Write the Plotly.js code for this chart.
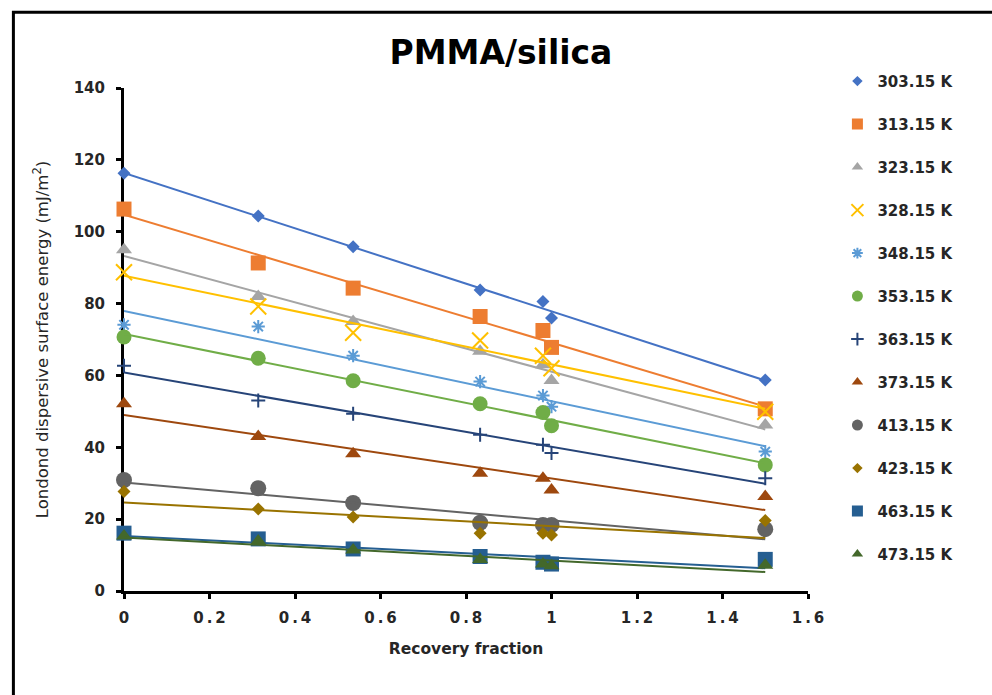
<!DOCTYPE html>
<html>
<head>
<meta charset="utf-8">
<script src="https://cdn.plot.ly/plotly-3.0.1.min.js"></script>
<style>
  html, body { margin: 0; padding: 0; background: #ffffff; overflow: hidden; }
  #chart { width: 992px; height: 695px; }
</style>
</head>
<body>
<div id="chart"></div>
<script>
// Recovery fraction (x values shared by all series)
const recoveryFraction = [0, 0.314, 0.536, 0.833, 0.98, 1.0, 1.5];

// Series labels
const seriesNames = ["303.15 K", "313.15 K", "323.15 K", "328.15 K", "348.15 K", "353.15 K",
                     "363.15 K", "373.15 K", "413.15 K", "423.15 K", "463.15 K", "473.15 K"];

// London dispersive surface energy (mJ/m²) per temperature
const energy303 = [116.3, 104.4, 95.8, 83.8, 80.6, 76.0, 58.7];
const energy313 = [106.3, 91.3, 84.3, 76.4, 72.5, 67.8, 50.7];
const energy323 = [95.0, 82.0, 75.0, 66.7, 63.0, 58.6, 46.2];
const energy328 = [88.7, 79.2, 71.9, 69.7, 65.5, 62.0, 49.9];
const energy348 = [74.1, 73.6, 65.5, 58.3, 54.4, 51.3, 38.8];
const energy353 = [70.7, 64.8, 58.5, 52.1, 49.7, 46.0, 35.1];
const energy363 = [62.7, 53.0, 49.3, 43.5, 40.7, 38.4, 31.4];
const energy373 = [52.1, 43.0, 38.2, 32.8, 31.4, 28.1, 26.3];
const energy413 = [30.9, 28.6, 24.5, 19.0, 18.4, 18.4, 17.2];
const energy423 = [27.7, 22.8, 20.6, 16.1, 16.1, 15.6, 19.6];
const energy463 = [16.1, 14.5, 11.7, 9.6, 8.0, 7.5, 8.8];
const energy473 = [15.3, 13.9, 11.4, 8.8, 7.5, 7.0, 7.2];

// Axis ticks
const xTickVals = [0, 0.2, 0.4, 0.6, 0.8, 1, 1.2, 1.4, 1.6];
const xTickText = ["0", "0\u2009.\u20092", "0\u2009.\u20094", "0\u2009.\u20096", "0\u2009.\u20098",
                   "1", "1\u2009.\u20092", "1\u2009.\u20094", "1\u2009.\u20096"];
const yTickVals = [0, 20, 40, 60, 80, 100, 120, 140];

const seriesValues = [energy303, energy313, energy323, energy328, energy348, energy353,
                      energy363, energy373, energy413, energy423, energy463, energy473];

// Styles
const colors = ["#4472C4", "#ED7D31", "#A5A5A5", "#FFC000", "#5B9BD5", "#70AD47",
                "#264478", "#9E480E", "#636363", "#997300", "#255E91", "#43682B"];
const symbols = ["diamond", "square", "triangle-up", "x-thin-open", "asterisk-open", "circle",
                 "cross-thin-open", "triangle-up", "circle", "diamond", "square", "triangle-up"];
const sizes = [10, 15, 14, 16, 11, 15, 10, 14, 16, 10, 15, 14];
const legendSizes = [8, 11, 10, 12, 9, 11, 9, 10, 11, 8, 11, 10];

function linearFit(xs, ys) {
  const n = xs.length;
  const mx = xs.reduce((a, b) => a + b, 0) / n;
  const my = ys.reduce((a, b) => a + b, 0) / n;
  let sxy = 0, sxx = 0;
  for (let i = 0; i < n; i++) {
    sxy += (xs[i] - mx) * (ys[i] - my);
    sxx += (xs[i] - mx) * (xs[i] - mx);
  }
  const slope = sxy / sxx;
  return { slope: slope, intercept: my - slope * mx };
}

const traces = [];
seriesNames.forEach((name, i) => {
  const ys = seriesValues[i];
  const open = symbols[i].indexOf("open") >= 0;
  const lineStyle = open ? { color: colors[i], width: 2 } : { width: 0 };
  // markers
  traces.push({
    type: "scatter", mode: "markers", name: name,
    x: recoveryFraction, y: ys,
    legendgroup: name, showlegend: false,
    cliponaxis: false,
    marker: { symbol: symbols[i], size: sizes[i], color: colors[i], line: lineStyle }
  });
  // linear trendline
  const fit = linearFit(recoveryFraction, ys);
  const xMin = Math.min.apply(null, recoveryFraction);
  const xMax = Math.max.apply(null, recoveryFraction);
  traces.push({
    type: "scatter", mode: "lines", name: name + " trend",
    x: [xMin, xMax],
    y: [fit.intercept + fit.slope * xMin, fit.intercept + fit.slope * xMax],
    legendgroup: name, showlegend: false, hoverinfo: "skip",
    line: { color: colors[i], width: 2 }
  });
  // legend entry (smaller symbol, like the reference legend)
  traces.push({
    type: "scatter", mode: "markers", name: name,
    x: [null], y: [null],
    legendgroup: name, showlegend: true,
    marker: { symbol: symbols[i], size: legendSizes[i], color: colors[i], line: lineStyle }
  });
});

const textColor = "#262626";
const layout = {
  width: 992, height: 695,
  paper_bgcolor: "#ffffff", plot_bgcolor: "#ffffff",
  margin: { l: 124, r: 184, t: 88, b: 104 },
  font: { family: "DejaVu Sans", color: textColor },
  showlegend: true,
  title: {
    text: "<b>PMMA/silica</b>",
    font: { family: "DejaVu Sans", size: 33, color: "#000000" },
    x: 0.505, xanchor: "center", y: 0.925, yanchor: "middle"
  },
  xaxis: {
    range: [0, 1.6], tickvals: xTickVals, ticktext: xTickText,
    showgrid: false, zeroline: false,
    showline: true, linecolor: "#000000", linewidth: 3,
    ticks: "outside", ticklen: 5, tickwidth: 3, tickcolor: "#000000",
    ticklabelstandoff: 6,
    tickfont: { family: "DejaVu Sans", size: 15, color: textColor, weight: "bold" },
    layer: "below traces",
    title: { text: "<b>Recovery fraction</b>", font: { family: "DejaVu Sans", size: 15.5, color: textColor }, standoff: 18 }
  },
  yaxis: {
    range: [0, 140], tickvals: yTickVals,
    showgrid: false, zeroline: false,
    showline: true, linecolor: "#000000", linewidth: 3,
    ticks: "outside", ticklen: 5, tickwidth: 3, tickcolor: "#000000",
    ticklabelstandoff: 8,
    tickfont: { family: "DejaVu Sans", size: 15, color: textColor, weight: "bold" },
    layer: "below traces",
    title: { text: "Londond dispersive surface energy (mJ/m<sup>2</sup>)", font: { family: "DejaVu Sans", size: 16.5, color: textColor }, standoff: 21 }
  },
  legend: {
    x: 1.043, xanchor: "left", y: 1.046, yanchor: "top",
    bgcolor: "rgba(0,0,0,0)",
    font: { family: "DejaVu Sans", size: 15, color: textColor, weight: "bold" },
    tracegroupgap: 20.5, itemwidth: 30, maxheight: 640
  },
  shapes: [{
    type: "rect", xref: "paper", yref: "paper",
    x0: -0.1617, x1: 1.4, y0: -0.4, y1: 1.1508,
    line: { color: "#000000", width: 3 }, fillcolor: "rgba(0,0,0,0)", layer: "above"
  }]
};

Plotly.newPlot("chart", traces, layout, { displayModeBar: false, staticPlot: true });
</script>
</body>
</html>
